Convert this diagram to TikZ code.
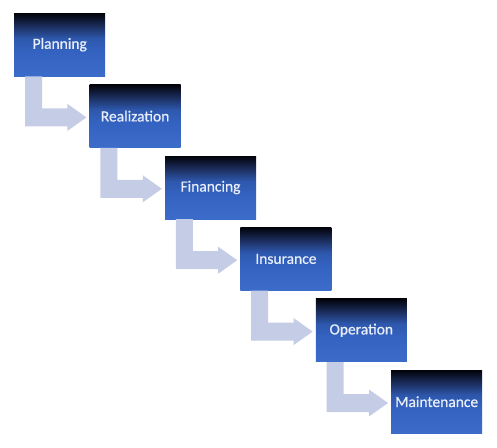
\documentclass[tikz,border=0pt]{standalone}
\usepackage{fontspec}
\setmainfont{Carlito}
\newfontfamily\boxfont{Carlito}[FakeBold=0.6]
\usetikzlibrary{calc}
\definecolor{arrowcol}{HTML}{C5CCE6}
\definecolor{txtcol}{HTML}{E8EEFA}
\definecolor{gA}{HTML}{02030A}
\definecolor{gB}{HTML}{1B2D5C}
\definecolor{gC}{HTML}{2E58AD}
\definecolor{gD}{HTML}{3462C0}
\definecolor{gE}{HTML}{3C6CCA}
\pgfdeclareverticalshading{boxshade}{100bp}{color(0bp)=(gE); color(25bp)=(gE); color(45bp)=(gD); color(55bp)=(gC); color(65bp)=(gB); color(75bp)=(gA); color(100bp)=(gA)}
\tikzset{
  stepbox/.style={shading=boxshade, anchor=north west, minimum width=91pt, minimum height=63pt, inner sep=0pt, text=txtcol, font=\boxfont\fontsize{15.5}{17}\selectfont},
  arrowfill/.style={fill=arrowcol, draw=none}
}
\newcommand{\bentarrow}[2]{%
  \fill[arrowfill] let \p1=(#1.south west), \p2=(#2.north west) in
    (\x1+11pt,\y1) -- (\x1+28pt,\y1) -- (\x1+28pt,\y2-24pt) -- (\x2-22pt,\y2-24pt)
    -- (\x2-22pt,\y2-19.5pt) -- (\x2-3pt,\y2-33pt) -- (\x2-22pt,\y2-46.5pt)
    -- (\x2-22pt,\y2-42pt) -- (\x1+11pt,\y2-42pt) -- cycle;}
\begin{document}
\begin{tikzpicture}[x=1pt,y=1pt]
\useasboundingbox (0,0) rectangle (497,-447);
\node[stepbox] (n1) at (14,-13) {Planning};
\node[stepbox] (n2) at (89.4,-84.4) {Realization};
\node[stepbox] (n3) at (164.8,-155.8) {Financing};
\node[stepbox] (n4) at (240.2,-227.2) {Insurance};
\node[stepbox] (n5) at (315.6,-298.6) {Operation};
\node[stepbox] (n6) at (391,-370) {Maintenance};
\bentarrow{n1}{n2}
\bentarrow{n2}{n3}
\bentarrow{n3}{n4}
\bentarrow{n4}{n5}
\bentarrow{n5}{n6}
\end{tikzpicture}
\end{document}
